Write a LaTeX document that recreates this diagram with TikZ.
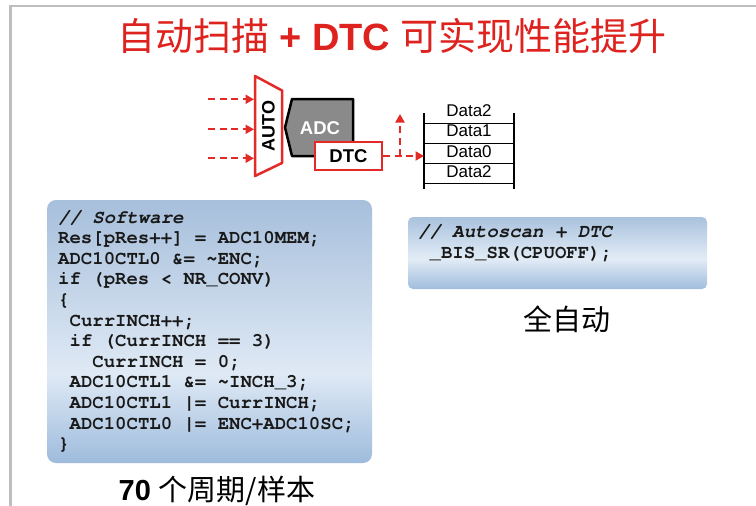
\documentclass[tikz,border=0pt]{standalone}
\usepackage{fontspec}
\setmainfont{Liberation Sans}
\newfontfamily\cjk{Noto Sans CJK SC}
\newfontfamily\codefont{TeX Gyre Cursor}
\usetikzlibrary{arrows.meta}
\definecolor{titlered}{RGB}{222,34,30}
\definecolor{dred}{RGB}{228,42,38}
\definecolor{adcgray}{RGB}{138,138,138}
\definecolor{framegray}{RGB}{190,190,190}
\definecolor{codeink}{RGB}{25,25,25}
\pgfdeclareverticalshading{lshade}{100bp}{rgb(0bp)=(0.62,0.735,0.865); rgb(25bp)=(0.62,0.735,0.865); rgb(42bp)=(0.875,0.915,0.96); rgb(75bp)=(0.655,0.75,0.862); rgb(100bp)=(0.655,0.75,0.862)}
\pgfdeclareverticalshading{rshade}{100bp}{rgb(0bp)=(0.63,0.74,0.865); rgb(25bp)=(0.63,0.74,0.865); rgb(46bp)=(0.885,0.925,0.965); rgb(75bp)=(0.665,0.76,0.868); rgb(100bp)=(0.665,0.76,0.868)}
\begin{document}
\begin{tikzpicture}[x=1pt,y=-1pt,
  redarrow/.style={dred, line width=2pt, dash pattern=on 7pt off 4.5pt, -{Triangle[length=8.5pt,width=9pt]}},
  redbox/.style={draw=dred, line width=2.5pt, fill=white},
  codeline/.style={anchor=base west, inner sep=0pt, text=codeink, font=\codefont\bfseries\fontsize{19}{20.6}\selectfont},
  comline/.style={codeline, font=\codefont\bfseries\itshape\fontsize{19}{20.6}\selectfont},
  datalabel/.style={inner sep=0pt, font=\fontsize{17}{19}\selectfont},
  tblline/.style={black, line width=1.2pt}]
\useasboundingbox (0,0) rectangle (756,506);
\fill[white] (0,0) rectangle (756,506);
% frame
\draw[framegray, line width=2.7pt] (10.5,506) -- (10.5,6) -- (756,6);
% title
\node[anchor=base, inner sep=0pt, text=titlered] (title) at (392,50)
  {\fontsize{38}{42}\selectfont{\cjk 自动扫描}\textbf{ + DTC }{\cjk 可实现性能提升}};
% ADC
\draw[black, line width=2.5pt, fill=adcgray, line join=round] (292,99) -- (353,99) -- (353,156) -- (292,156) -- (285,127.5) -- cycle;
\node[text=white, inner sep=0pt, font=\bfseries\fontsize{18.5}{20}\selectfont] (adc) at (320,128.5) {ADC};
% AUTO trapezoid
\draw[redbox, line join=round] (255,76) -- (282,90.5) -- (282,163) -- (255,176) -- cycle;
\node[rotate=90, inner sep=0pt, font=\bfseries\fontsize{18}{20}\selectfont] (auto) at (268.5,126) {AUTO};
\coordinate (a1) at (254,99.3);
\coordinate (a2) at (254,129.3);
\coordinate (a3) at (254,158.3);
\coordinate (s1) at (208,99.3);
\coordinate (s2) at (208,129.3);
\coordinate (s3) at (208,158.3);
\draw[redarrow] (s1) -- (a1);
\draw[redarrow] (s2) -- (a2);
\draw[redarrow] (s3) -- (a3);
% DTC
\node[redbox, minimum width=67, minimum height=28, inner sep=0pt, font=\bfseries\fontsize{18.5}{20}\selectfont] (dtc) at (348.5,156) {DTC};
% table
\coordinate (tblin) at (424,156);
\coordinate (up0) at (400,156);
\coordinate (up1) at (400,114);
\draw[black, line width=2.3pt] (424,113) -- (424,188.5);
\draw[black, line width=2.3pt] (514,113) -- (514,188.5);
\foreach \yy in {123.3,143.3,163.3,183.3} \draw[tblline] (424,\yy) -- (514,\yy);
\node[datalabel] (d3) at (469,110.5) {Data2};
\node[datalabel] (d2) at (469,131) {Data1};
\node[datalabel] (d1) at (469,151.5) {Data0};
\node[datalabel] (d0) at (469,171.5) {Data2};
\draw[redarrow] (dtc.east) -- (tblin);
\draw[redarrow] (up0) -- (up1);
% left code box
\path[shading=lshade, rounded corners=9pt] (47,200) rectangle (372,463);
\node[comline] (c0) at (58,223.1) {// Software};
\node[codeline] (c1) at (58,243.7) {Res[pRes++] = ADC10MEM;};
\node[codeline] (c2) at (58,264.3) {ADC10CTL0 \&= \textasciitilde ENC;};
\node[codeline] (c3) at (58,284.9) {if (pRes < NR\_CONV)};
\node[codeline] (c4) at (58,305.5) {\{};
\node[codeline] (c5) at (69.4,326.1) {CurrINCH++;};
\node[codeline] (c6) at (69.4,346.7) {if (CurrINCH == 3)};
\node[codeline] (c7) at (92.2,367.3) {CurrINCH = 0;};
\node[codeline] (c8) at (69.4,387.9) {ADC10CTL1 \&= \textasciitilde INCH\_3;};
\node[codeline] (c9) at (69.4,408.5) {ADC10CTL1 |= CurrINCH;};
\node[codeline] (c10) at (69.4,429.1) {ADC10CTL0 |= ENC+ADC10SC;};
\node[codeline] (c11) at (58,449.7) {\}};
% right code box
\path[shading=rshade, rounded corners=5pt] (408,217) rectangle (707,289);
\node[comline] (r0) at (418,237.5) {// Autoscan + DTC};
\node[codeline] (r1) at (429.4,258) {\_BIS\_SR(CPUOFF);};
% captions
\node[anchor=base, inner sep=0pt, font=\cjk\fontsize{29}{31}\selectfont] (auto2) at (567,330) {全自动};
\node[anchor=base, inner sep=0pt, font=\fontsize{29}{31}\selectfont] (cyc) at (217,500)
  {\textbf{70} {\cjk 个周期/样本}};
\end{tikzpicture}
\end{document}
